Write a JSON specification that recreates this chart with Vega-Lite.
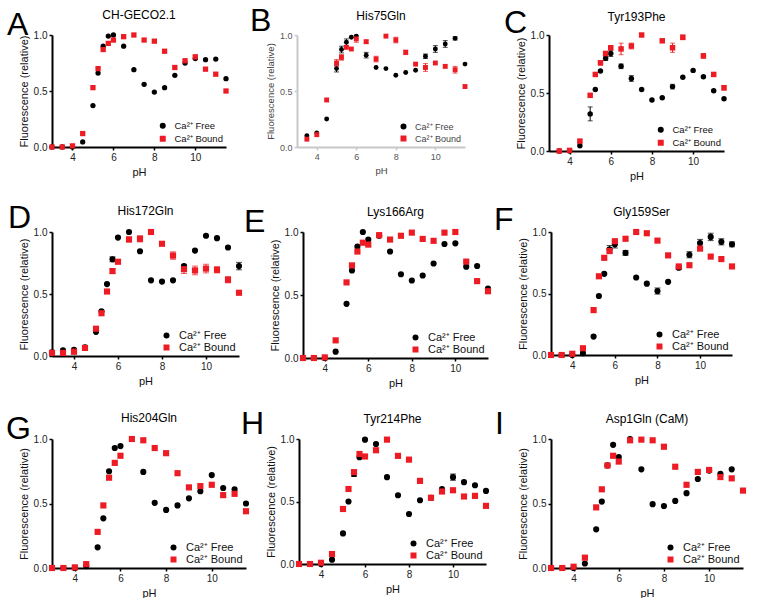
{
"$schema": "https://vega.github.io/schema/vega-lite/v6.json",
"padding": {"left": 5, "top": 5, "right": 0, "bottom": 0},
"background": "white",
"datasets": {
"A": [
{"pH":3,"s":"Free","v":0},{"pH":3.5,"s":"Free","v":0},{"pH":4,"s":"Free","v":0},{"pH":4.5,"s":"Free","v":0.045},{"pH":5,"s":"Free","v":0.37},{"pH":5.25,"s":"Free","v":0.66},{"pH":5.5,"s":"Free","v":0.9},{"pH":5.75,"s":"Free","v":0.99},{"pH":6,"s":"Free","v":1.0},{"pH":6.5,"s":"Free","v":0.9},{"pH":7,"s":"Free","v":0.69},{"pH":7.5,"s":"Free","v":0.56},{"pH":8,"s":"Free","v":0.49},{"pH":8.5,"s":"Free","v":0.53},{"pH":9,"s":"Free","v":0.64},{"pH":9.5,"s":"Free","v":0.75},{"pH":10,"s":"Free","v":0.79},{"pH":10.5,"s":"Free","v":0.78},{"pH":11,"s":"Free","v":0.785},{"pH":11.5,"s":"Free","v":0.61},
{"pH":3,"s":"Bound","v":0},{"pH":3.5,"s":"Bound","v":0},{"pH":4,"s":"Bound","v":0.01},{"pH":4.5,"s":"Bound","v":0.12},{"pH":5,"s":"Bound","v":0.53},{"pH":5.25,"s":"Bound","v":0.7},{"pH":5.5,"s":"Bound","v":0.87},{"pH":5.75,"s":"Bound","v":0.925},{"pH":6,"s":"Bound","v":0.955},{"pH":6.5,"s":"Bound","v":0.985},{"pH":7,"s":"Bound","v":1.0},{"pH":7.5,"s":"Bound","v":0.955},{"pH":8,"s":"Bound","v":0.945},{"pH":8.5,"s":"Bound","v":0.855},{"pH":9,"s":"Bound","v":0.71},{"pH":9.5,"s":"Bound","v":0.77},{"pH":10,"s":"Bound","v":0.805,"e":0.015},{"pH":10.5,"s":"Bound","v":0.695},{"pH":11,"s":"Bound","v":0.65},{"pH":11.5,"s":"Bound","v":0.5}
],
"B": [
{"pH":3.5,"s":"Free","v":0.1},{"pH":4,"s":"Free","v":0.125},{"pH":4.5,"s":"Free","v":0.25},{"pH":5,"s":"Free","v":0.7,"e":0.03},{"pH":5.25,"s":"Free","v":0.87,"e":0.03},{"pH":5.5,"s":"Free","v":0.935,"e":0.03},{"pH":5.75,"s":"Free","v":0.98},{"pH":6,"s":"Free","v":0.99},{"pH":6.5,"s":"Free","v":0.82,"e":0.025},{"pH":7,"s":"Free","v":0.71},{"pH":7.5,"s":"Free","v":0.7},{"pH":8,"s":"Free","v":0.64},{"pH":8.5,"s":"Free","v":0.665},{"pH":9,"s":"Free","v":0.685},{"pH":9.5,"s":"Free","v":0.81,"e":0.02},{"pH":10,"s":"Free","v":0.875,"e":0.03},{"pH":10.5,"s":"Free","v":0.92,"e":0.03},{"pH":11,"s":"Free","v":0.97,"e":0.015},{"pH":11.5,"s":"Free","v":0.74},
{"pH":3.5,"s":"Bound","v":0.07},{"pH":4,"s":"Bound","v":0.11},{"pH":4.5,"s":"Bound","v":0.42},{"pH":5,"s":"Bound","v":0.75,"e":0.03},{"pH":5.25,"s":"Bound","v":0.8,"e":0.025},{"pH":5.5,"s":"Bound","v":0.89},{"pH":5.75,"s":"Bound","v":0.875},{"pH":6,"s":"Bound","v":0.965,"e":0.03},{"pH":6.5,"s":"Bound","v":0.94,"e":0.015},{"pH":7,"s":"Bound","v":0.785,"e":0.025},{"pH":7.5,"s":"Bound","v":0.99},{"pH":8,"s":"Bound","v":0.955,"e":0.025},{"pH":8.5,"s":"Bound","v":0.845,"e":0.02},{"pH":9,"s":"Bound","v":0.74},{"pH":9.5,"s":"Bound","v":0.71,"e":0.035},{"pH":10,"s":"Bound","v":0.75},{"pH":10.5,"s":"Bound","v":0.72},{"pH":11,"s":"Bound","v":0.69,"e":0.03},{"pH":11.5,"s":"Bound","v":0.54}
],
"C": [
{"pH":3.5,"s":"Free","v":0},{"pH":4,"s":"Free","v":0},{"pH":4.5,"s":"Free","v":0.045},{"pH":5,"s":"Free","v":0.32,"e":0.06},{"pH":5.25,"s":"Free","v":0.53},{"pH":5.5,"s":"Free","v":0.69},{"pH":5.75,"s":"Free","v":0.8,"e":0.02},{"pH":6,"s":"Free","v":0.84,"e":0.025},{"pH":6.5,"s":"Free","v":0.73,"e":0.02},{"pH":7,"s":"Free","v":0.625,"e":0.025},{"pH":7.5,"s":"Free","v":0.53},{"pH":8,"s":"Free","v":0.44},{"pH":8.5,"s":"Free","v":0.46},{"pH":9,"s":"Free","v":0.555,"e":0.02},{"pH":9.5,"s":"Free","v":0.635},{"pH":10,"s":"Free","v":0.695},{"pH":10.5,"s":"Free","v":0.64},{"pH":11,"s":"Free","v":0.52},{"pH":11.5,"s":"Free","v":0.45},
{"pH":3.5,"s":"Bound","v":0},{"pH":4,"s":"Bound","v":0.005},{"pH":4.5,"s":"Bound","v":0.085,"e":0.015},{"pH":5,"s":"Bound","v":0.48},{"pH":5.25,"s":"Bound","v":0.66},{"pH":5.5,"s":"Bound","v":0.76,"e":0.02},{"pH":5.75,"s":"Bound","v":0.84,"e":0.02},{"pH":6,"s":"Bound","v":0.89,"e":0.015},{"pH":6.5,"s":"Bound","v":0.88,"e":0.05},{"pH":7,"s":"Bound","v":0.905,"e":0.025},{"pH":7.5,"s":"Bound","v":1.0},{"pH":8.5,"s":"Bound","v":0.95},{"pH":9,"s":"Bound","v":0.89,"e":0.04},{"pH":9.5,"s":"Bound","v":0.98,"e":0.02},{"pH":10.5,"s":"Bound","v":0.82,"e":0.02},{"pH":11,"s":"Bound","v":0.66},{"pH":11.5,"s":"Bound","v":0.545,"e":0.02}
],
"D": [
{"pH":3,"s":"Free","v":0.03},{"pH":3.5,"s":"Free","v":0.045},{"pH":4,"s":"Free","v":0.05},{"pH":4.5,"s":"Free","v":0.07},{"pH":5,"s":"Free","v":0.195},{"pH":5.25,"s":"Free","v":0.36},{"pH":5.5,"s":"Free","v":0.58},{"pH":5.75,"s":"Free","v":0.78,"e":0.02},{"pH":6,"s":"Free","v":0.955},{"pH":6.5,"s":"Free","v":1.0},{"pH":7,"s":"Free","v":0.845},{"pH":7.5,"s":"Free","v":0.61},{"pH":8,"s":"Free","v":0.6},{"pH":8.5,"s":"Free","v":0.61},{"pH":9,"s":"Free","v":0.725},{"pH":9.5,"s":"Free","v":0.85},{"pH":10,"s":"Free","v":0.97},{"pH":10.5,"s":"Free","v":0.95},{"pH":11,"s":"Free","v":0.875},{"pH":11.5,"s":"Free","v":0.725,"e":0.03},
{"pH":3,"s":"Bound","v":0.025,"e":0.02},{"pH":3.5,"s":"Bound","v":0.025,"e":0.02},{"pH":4,"s":"Bound","v":0.035,"e":0.02},{"pH":4.5,"s":"Bound","v":0.065},{"pH":5,"s":"Bound","v":0.22},{"pH":5.25,"s":"Bound","v":0.345},{"pH":5.5,"s":"Bound","v":0.52},{"pH":5.75,"s":"Bound","v":0.685,"e":0.02},{"pH":6,"s":"Bound","v":0.76},{"pH":6.5,"s":"Bound","v":0.94,"e":0.02},{"pH":7,"s":"Bound","v":0.945,"e":0.025},{"pH":7.5,"s":"Bound","v":1.0},{"pH":8,"s":"Bound","v":0.905},{"pH":8.5,"s":"Bound","v":0.81,"e":0.03},{"pH":9,"s":"Bound","v":0.7,"e":0.035},{"pH":9.5,"s":"Bound","v":0.69,"e":0.035},{"pH":10,"s":"Bound","v":0.705,"e":0.035},{"pH":10.5,"s":"Bound","v":0.695,"e":0.025},{"pH":11,"s":"Bound","v":0.615,"e":0.025},{"pH":11.5,"s":"Bound","v":0.51}
],
"E": [
{"pH":3,"s":"Free","v":0},{"pH":3.5,"s":"Free","v":0},{"pH":4,"s":"Free","v":0},{"pH":4.5,"s":"Free","v":0.05},{"pH":5,"s":"Free","v":0.43},{"pH":5.25,"s":"Free","v":0.695},{"pH":5.5,"s":"Free","v":0.885},{"pH":5.75,"s":"Free","v":1.0},{"pH":6,"s":"Free","v":0.94},{"pH":6.5,"s":"Free","v":0.97},{"pH":7,"s":"Free","v":0.845},{"pH":7.5,"s":"Free","v":0.665},{"pH":8,"s":"Free","v":0.615},{"pH":8.5,"s":"Free","v":0.655},{"pH":9,"s":"Free","v":0.75},{"pH":9.5,"s":"Free","v":0.905},{"pH":10,"s":"Free","v":0.91},{"pH":10.5,"s":"Free","v":0.725},{"pH":11,"s":"Free","v":0.73},{"pH":11.5,"s":"Free","v":0.55},
{"pH":3,"s":"Bound","v":0},{"pH":3.5,"s":"Bound","v":0},{"pH":4,"s":"Bound","v":0.005},{"pH":4.5,"s":"Bound","v":0.14},{"pH":5,"s":"Bound","v":0.6},{"pH":5.25,"s":"Bound","v":0.735},{"pH":5.5,"s":"Bound","v":0.845},{"pH":5.75,"s":"Bound","v":0.915},{"pH":6,"s":"Bound","v":0.9},{"pH":6.5,"s":"Bound","v":0.975},{"pH":7,"s":"Bound","v":0.94},{"pH":7.5,"s":"Bound","v":0.97},{"pH":8,"s":"Bound","v":0.995},{"pH":8.5,"s":"Bound","v":0.945},{"pH":9,"s":"Bound","v":0.93},{"pH":9.5,"s":"Bound","v":0.995},{"pH":10,"s":"Bound","v":1.0},{"pH":10.5,"s":"Bound","v":0.765},{"pH":11,"s":"Bound","v":0.61},{"pH":11.5,"s":"Bound","v":0.53}
],
"F": [
{"pH":3,"s":"Free","v":0},{"pH":3.5,"s":"Free","v":0},{"pH":4,"s":"Free","v":0},{"pH":4.5,"s":"Free","v":0.015},{"pH":5,"s":"Free","v":0.15},{"pH":5.25,"s":"Free","v":0.48},{"pH":5.5,"s":"Free","v":0.66},{"pH":5.75,"s":"Free","v":0.86,"e":0.03},{"pH":6,"s":"Free","v":0.9,"e":0.03},{"pH":6.5,"s":"Free","v":0.83,"e":0.02},{"pH":7,"s":"Free","v":0.63},{"pH":7.5,"s":"Free","v":0.58},{"pH":8,"s":"Free","v":0.52,"e":0.025},{"pH":8.5,"s":"Free","v":0.595},{"pH":9,"s":"Free","v":0.71,"e":0.015},{"pH":9.5,"s":"Free","v":0.815,"e":0.025},{"pH":10,"s":"Free","v":0.91,"e":0.03},{"pH":10.5,"s":"Free","v":0.96,"e":0.03},{"pH":11,"s":"Free","v":0.92,"e":0.025},{"pH":11.5,"s":"Free","v":0.9,"e":0.02},
{"pH":3,"s":"Bound","v":0},{"pH":3.5,"s":"Bound","v":0},{"pH":4,"s":"Bound","v":0.01},{"pH":4.5,"s":"Bound","v":0.055},{"pH":5,"s":"Bound","v":0.365},{"pH":5.25,"s":"Bound","v":0.64},{"pH":5.5,"s":"Bound","v":0.79},{"pH":5.75,"s":"Bound","v":0.845},{"pH":6,"s":"Bound","v":0.925},{"pH":6.5,"s":"Bound","v":0.945},{"pH":7,"s":"Bound","v":1.0},{"pH":7.5,"s":"Bound","v":0.99},{"pH":8,"s":"Bound","v":0.93},{"pH":8.5,"s":"Bound","v":0.81},{"pH":9,"s":"Bound","v":0.72},{"pH":9.5,"s":"Bound","v":0.73},{"pH":10,"s":"Bound","v":0.865},{"pH":10.5,"s":"Bound","v":0.8},{"pH":11,"s":"Bound","v":0.78},{"pH":11.5,"s":"Bound","v":0.72}
],
"G": [
{"pH":3,"s":"Free","v":0},{"pH":3.5,"s":"Free","v":0},{"pH":4,"s":"Free","v":0},{"pH":4.5,"s":"Free","v":0.015},{"pH":5,"s":"Free","v":0.16},{"pH":5.25,"s":"Free","v":0.385},{"pH":5.5,"s":"Free","v":0.75},{"pH":5.75,"s":"Free","v":0.93},{"pH":6,"s":"Free","v":0.945},{"pH":7,"s":"Free","v":0.745},{"pH":7.5,"s":"Free","v":0.505},{"pH":8,"s":"Free","v":0.45},{"pH":8.5,"s":"Free","v":0.485},{"pH":9,"s":"Free","v":0.54},{"pH":9.5,"s":"Free","v":0.595},{"pH":10,"s":"Free","v":0.72},{"pH":10.5,"s":"Free","v":0.62},{"pH":11,"s":"Free","v":0.61},{"pH":11.5,"s":"Free","v":0.5},
{"pH":3,"s":"Bound","v":0},{"pH":3.5,"s":"Bound","v":0},{"pH":4,"s":"Bound","v":0.005},{"pH":4.5,"s":"Bound","v":0.03},{"pH":5,"s":"Bound","v":0.28},{"pH":5.25,"s":"Bound","v":0.485},{"pH":5.5,"s":"Bound","v":0.7},{"pH":5.75,"s":"Bound","v":0.815},{"pH":6,"s":"Bound","v":0.87},{"pH":6.5,"s":"Bound","v":1.0},{"pH":7,"s":"Bound","v":0.99},{"pH":7.5,"s":"Bound","v":0.93},{"pH":8,"s":"Bound","v":0.89},{"pH":8.5,"s":"Bound","v":0.735},{"pH":9,"s":"Bound","v":0.625},{"pH":9.5,"s":"Bound","v":0.635},{"pH":10,"s":"Bound","v":0.645},{"pH":10.5,"s":"Bound","v":0.565},{"pH":11,"s":"Bound","v":0.575},{"pH":11.5,"s":"Bound","v":0.44}
],
"H": [
{"pH":3,"s":"Free","v":0},{"pH":3.5,"s":"Free","v":0},{"pH":4,"s":"Free","v":0},{"pH":4.5,"s":"Free","v":0.035},{"pH":5,"s":"Free","v":0.245},{"pH":5.25,"s":"Free","v":0.5},{"pH":5.5,"s":"Free","v":0.72,"e":0.02},{"pH":5.75,"s":"Free","v":0.855},{"pH":6,"s":"Free","v":0.995},{"pH":6.5,"s":"Free","v":0.96},{"pH":7,"s":"Free","v":0.695},{"pH":7.5,"s":"Free","v":0.55},{"pH":8,"s":"Free","v":0.4},{"pH":8.5,"s":"Free","v":0.51},{"pH":9,"s":"Free","v":0.53},{"pH":9.5,"s":"Free","v":0.6},{"pH":10,"s":"Free","v":0.695,"e":0.025},{"pH":10.5,"s":"Free","v":0.655},{"pH":11,"s":"Free","v":0.63},{"pH":11.5,"s":"Free","v":0.585},
{"pH":3,"s":"Bound","v":0},{"pH":3.5,"s":"Bound","v":0},{"pH":4,"s":"Bound","v":0.01},{"pH":4.5,"s":"Bound","v":0.08},{"pH":5,"s":"Bound","v":0.44},{"pH":5.25,"s":"Bound","v":0.6},{"pH":5.5,"s":"Bound","v":0.735},{"pH":5.75,"s":"Bound","v":0.88},{"pH":6,"s":"Bound","v":0.86},{"pH":6.5,"s":"Bound","v":0.91},{"pH":7,"s":"Bound","v":0.995},{"pH":7.5,"s":"Bound","v":0.865},{"pH":8,"s":"Bound","v":0.835},{"pH":8.5,"s":"Bound","v":0.665},{"pH":9,"s":"Bound","v":0.53},{"pH":9.5,"s":"Bound","v":0.58},{"pH":10,"s":"Bound","v":0.59},{"pH":10.5,"s":"Bound","v":0.54},{"pH":11,"s":"Bound","v":0.545},{"pH":11.5,"s":"Bound","v":0.465}
],
"I": [
{"pH":3,"s":"Free","v":0},{"pH":3.5,"s":"Free","v":0},{"pH":4,"s":"Free","v":0},{"pH":4.5,"s":"Free","v":0.035},{"pH":5,"s":"Free","v":0.3},{"pH":5.25,"s":"Free","v":0.515},{"pH":5.5,"s":"Free","v":0.795},{"pH":5.75,"s":"Free","v":0.955},{"pH":6,"s":"Free","v":0.86},{"pH":6.5,"s":"Free","v":1.0},{"pH":7,"s":"Free","v":0.765},{"pH":7.5,"s":"Free","v":0.495},{"pH":8,"s":"Free","v":0.48},{"pH":8.5,"s":"Free","v":0.52},{"pH":9,"s":"Free","v":0.58},{"pH":9.5,"s":"Free","v":0.69},{"pH":10,"s":"Free","v":0.755},{"pH":10.5,"s":"Free","v":0.73},{"pH":11,"s":"Free","v":0.765},
{"pH":3,"s":"Bound","v":0},{"pH":3.5,"s":"Bound","v":0},{"pH":4,"s":"Bound","v":0.01},{"pH":4.5,"s":"Bound","v":0.08},{"pH":5,"s":"Bound","v":0.47},{"pH":5.25,"s":"Bound","v":0.61},{"pH":5.5,"s":"Bound","v":0.795},{"pH":5.75,"s":"Bound","v":0.87},{"pH":6,"s":"Bound","v":0.825},{"pH":6.5,"s":"Bound","v":0.99},{"pH":7,"s":"Bound","v":0.995},{"pH":7.5,"s":"Bound","v":0.99},{"pH":8,"s":"Bound","v":0.94},{"pH":8.5,"s":"Bound","v":0.785},{"pH":9,"s":"Bound","v":0.645},{"pH":9.5,"s":"Bound","v":0.745},{"pH":10,"s":"Bound","v":0.76},{"pH":10.5,"s":"Bound","v":0.705},{"pH":11,"s":"Bound","v":0.695},{"pH":11.5,"s":"Bound","v":0.6}
]
},
"spacing": 21,
"resolve": {"scale": {"color": "independent", "shape": "independent"}, "legend": {"color": "independent", "shape": "independent"}},
"vconcat": [
{"hconcat": [
 {"hconcat": [
  {"width": 174, "height": 112, "layer": [
   {"data": {"name": "A"}, "transform": [{"filter": "isValid(datum.e) && datum.s == 'Bound'"}], "mark": {"type": "errorbar", "ticks": {"size": 5}, "thickness": 1, "color": "#ed1c24"},
    "encoding": {"x": {"field": "pH", "type": "quantitative", "scale": {"domain": [3, 11.5], "nice": false, "zero": false}, "axis": {"values": [4,6,8,10], "title": "pH"}},
     "y": {"field": "v", "type": "quantitative", "scale": {"domain": [0, 1], "nice": false}, "axis": {"values": [0,0.5,1], "format": ".1f", "title": "Fluorescence (relative)"}},
     "yError": {"field": "e"}}},
   {"data": {"name": "A"}, "mark": {"type": "point", "filled": true, "size": 28, "opacity": 1},
    "encoding": {"x": {"field": "pH", "type": "quantitative", "scale": {"domain": [3, 11.5], "nice": false, "zero": false}, "axis": {"values": [4,6,8,10], "title": "pH"}},
     "y": {"field": "v", "type": "quantitative", "scale": {"domain": [0, 1], "nice": false}, "axis": {"values": [0,0.5,1], "format": ".1f", "title": "Fluorescence (relative)"}},
     "color": {"field": "s", "type": "nominal", "scale": {"domain": ["Free","Bound"], "range": ["#000000","#ed1c24"]}, "legend": {"title": null, "labelFontSize": 9.5, "labelExpr": "'Ca²⁺ ' + datum.label"}},
     "shape": {"field": "s", "type": "nominal", "scale": {"domain": ["Free","Bound"], "range": ["circle","square"]}, "legend": {"title": null, "labelFontSize": 9.5, "labelExpr": "'Ca²⁺ ' + datum.label"}}}},
   {"data": {"values": [{"t": "A"}]}, "mark": {"type": "text", "align": "left", "baseline": "alphabetic", "fontSize": 32},
    "encoding": {"x": {"datum": 0.8, "type": "quantitative"}, "y": {"datum": 1.0, "type": "quantitative"}, "text": {"field": "t"}}},
   {"data": {"values": [{"t": "CH-GECO2.1"}]}, "mark": {"type": "text", "align": "center", "baseline": "middle", "fontSize": 12},
    "encoding": {"x": {"datum": 7.25, "type": "quantitative"}, "y": {"datum": 1.18, "type": "quantitative"}, "text": {"field": "t"}}}
  ]},
  {"width": 168, "height": 112, "layer": [
   {"data": {"name": "B"}, "transform": [{"filter": "isValid(datum.e) && datum.s == 'Free'"}], "mark": {"type": "errorbar", "ticks": {"size": 5}, "thickness": 1, "color": "#000000"},
    "encoding": {"x": {"field": "pH", "type": "quantitative", "scale": {"domain": [3, 11.5], "nice": false, "zero": false}, "axis": {"values": [4,6,8,10], "title": "pH", "domainColor": "#c8c8c8", "tickColor": "#c8c8c8", "labelColor": "#555", "titleColor": "#444", "labelFontSize": 9, "titleFontSize": 9.5}},
     "y": {"field": "v", "type": "quantitative", "scale": {"domain": [0, 1], "nice": false}, "axis": {"values": [0,0.5,1], "format": ".1f", "title": "Fluorescence (relative)", "domainColor": "#c8c8c8", "tickColor": "#c8c8c8", "labelColor": "#555", "titleColor": "#444", "labelFontSize": 9, "titleFontSize": 9.5}},
     "yError": {"field": "e"}}},
   {"data": {"name": "B"}, "transform": [{"filter": "isValid(datum.e) && datum.s == 'Bound'"}], "mark": {"type": "errorbar", "ticks": {"size": 5}, "thickness": 1, "color": "#ed1c24"},
    "encoding": {"x": {"field": "pH", "type": "quantitative", "scale": {"domain": [3, 11.5], "nice": false, "zero": false}, "axis": {"values": [4,6,8,10], "title": "pH", "domainColor": "#c8c8c8", "tickColor": "#c8c8c8", "labelColor": "#555", "titleColor": "#444", "labelFontSize": 9, "titleFontSize": 9.5}},
     "y": {"field": "v", "type": "quantitative", "scale": {"domain": [0, 1], "nice": false}, "axis": {"values": [0,0.5,1], "format": ".1f", "title": "Fluorescence (relative)", "domainColor": "#c8c8c8", "tickColor": "#c8c8c8", "labelColor": "#555", "titleColor": "#444", "labelFontSize": 9, "titleFontSize": 9.5}},
     "yError": {"field": "e"}}},
   {"data": {"name": "B"}, "mark": {"type": "point", "filled": true, "size": 24, "opacity": 1},
    "encoding": {"x": {"field": "pH", "type": "quantitative", "scale": {"domain": [3, 11.5], "nice": false, "zero": false}, "axis": {"values": [4,6,8,10], "title": "pH", "domainColor": "#c8c8c8", "tickColor": "#c8c8c8", "labelColor": "#555", "titleColor": "#444", "labelFontSize": 9, "titleFontSize": 9.5}},
     "y": {"field": "v", "type": "quantitative", "scale": {"domain": [0, 1], "nice": false}, "axis": {"values": [0,0.5,1], "format": ".1f", "title": "Fluorescence (relative)", "domainColor": "#c8c8c8", "tickColor": "#c8c8c8", "labelColor": "#555", "titleColor": "#444", "labelFontSize": 9, "titleFontSize": 9.5}},
     "color": {"field": "s", "type": "nominal", "scale": {"domain": ["Free","Bound"], "range": ["#000000","#ed1c24"]}, "legend": {"title": null, "labelFontSize": 9, "labelColor": "#444", "labelExpr": "'Ca²⁺ ' + datum.label"}},
     "shape": {"field": "s", "type": "nominal", "scale": {"domain": ["Free","Bound"], "range": ["circle","square"]}, "legend": {"title": null, "labelFontSize": 9, "labelColor": "#444", "labelExpr": "'Ca²⁺ ' + datum.label"}}}},
   {"data": {"values": [{"t": "B"}]}, "mark": {"type": "text", "align": "left", "baseline": "alphabetic", "fontSize": 32},
    "encoding": {"x": {"datum": 0.62, "type": "quantitative"}, "y": {"datum": 1.035, "type": "quantitative"}, "text": {"field": "t"}}},
   {"data": {"values": [{"t": "His75Gln"}]}, "mark": {"type": "text", "align": "center", "baseline": "middle", "fontSize": 12},
    "encoding": {"x": {"datum": 7.25, "type": "quantitative"}, "y": {"datum": 1.17, "type": "quantitative"}, "text": {"field": "t"}}}
  ]}
 ], "spacing": 20, "resolve": {"scale": {"color": "independent", "shape": "independent"}, "legend": {"color": "independent", "shape": "independent"}}},
 {"width": 175, "height": 116, "layer": [
   {"data": {"name": "C"}, "transform": [{"filter": "isValid(datum.e) && datum.s == 'Free'"}], "mark": {"type": "errorbar", "ticks": {"size": 5}, "thickness": 1, "color": "#000000"},
    "encoding": {"x": {"field": "pH", "type": "quantitative", "scale": {"domain": [3, 11.5], "nice": false, "zero": false}, "axis": {"values": [4,6,8,10], "title": "pH"}},
     "y": {"field": "v", "type": "quantitative", "scale": {"domain": [0, 1], "nice": false}, "axis": {"values": [0,0.5,1], "format": ".1f", "title": "Fluorescence (relative)"}},
     "yError": {"field": "e"}}},
   {"data": {"name": "C"}, "transform": [{"filter": "isValid(datum.e) && datum.s == 'Bound'"}], "mark": {"type": "errorbar", "ticks": {"size": 5}, "thickness": 1, "color": "#ed1c24"},
    "encoding": {"x": {"field": "pH", "type": "quantitative", "scale": {"domain": [3, 11.5], "nice": false, "zero": false}, "axis": {"values": [4,6,8,10], "title": "pH"}},
     "y": {"field": "v", "type": "quantitative", "scale": {"domain": [0, 1], "nice": false}, "axis": {"values": [0,0.5,1], "format": ".1f", "title": "Fluorescence (relative)"}},
     "yError": {"field": "e"}}},
   {"data": {"name": "C"}, "mark": {"type": "point", "filled": true, "size": 30, "opacity": 1},
    "encoding": {"x": {"field": "pH", "type": "quantitative", "scale": {"domain": [3, 11.5], "nice": false, "zero": false}, "axis": {"values": [4,6,8,10], "title": "pH"}},
     "y": {"field": "v", "type": "quantitative", "scale": {"domain": [0, 1], "nice": false}, "axis": {"values": [0,0.5,1], "format": ".1f", "title": "Fluorescence (relative)"}},
     "color": {"field": "s", "type": "nominal", "scale": {"domain": ["Free","Bound"], "range": ["#000000","#ed1c24"]}, "legend": {"title": null, "labelFontSize": 9.5, "labelExpr": "'Ca²⁺ ' + datum.label"}},
     "shape": {"field": "s", "type": "nominal", "scale": {"domain": ["Free","Bound"], "range": ["circle","square"]}, "legend": {"title": null, "labelFontSize": 9.5, "labelExpr": "'Ca²⁺ ' + datum.label"}}}},
   {"data": {"values": [{"t": "C"}]}, "mark": {"type": "text", "align": "left", "baseline": "alphabetic", "fontSize": 32},
    "encoding": {"x": {"datum": 0.81, "type": "quantitative"}, "y": {"datum": 1.017, "type": "quantitative"}, "text": {"field": "t"}}},
   {"data": {"values": [{"t": "Tyr193Phe"}]}, "mark": {"type": "text", "align": "center", "baseline": "middle", "fontSize": 12},
    "encoding": {"x": {"datum": 7.25, "type": "quantitative"}, "y": {"datum": 1.155, "type": "quantitative"}, "text": {"field": "t"}}}
 ]}
], "spacing": 35, "resolve": {"scale": {"color": "independent", "shape": "independent"}, "legend": {"color": "independent", "shape": "independent"}}},
{"vconcat": [
{"hconcat": [
 {"width": 187, "height": 124, "layer": [
   {"data": {"name": "D"}, "transform": [{"filter": "isValid(datum.e) && datum.s == 'Free'"}], "mark": {"type": "errorbar", "ticks": {"size": 6}, "thickness": 1, "color": "#000000"},
    "encoding": {"x": {"field": "pH", "type": "quantitative", "scale": {"domain": [3, 11.5], "nice": false, "zero": false}, "axis": {"values": [4,6,8,10], "title": "pH"}},
     "y": {"field": "v", "type": "quantitative", "scale": {"domain": [0, 1], "nice": false}, "axis": {"values": [0,0.5,1], "format": ".1f", "title": "Fluorescence (relative)"}},
     "yError": {"field": "e"}}},
   {"data": {"name": "D"}, "transform": [{"filter": "isValid(datum.e) && datum.s == 'Bound'"}], "mark": {"type": "errorbar", "ticks": {"size": 6}, "thickness": 1, "color": "#ed1c24"},
    "encoding": {"x": {"field": "pH", "type": "quantitative", "scale": {"domain": [3, 11.5], "nice": false, "zero": false}, "axis": {"values": [4,6,8,10], "title": "pH"}},
     "y": {"field": "v", "type": "quantitative", "scale": {"domain": [0, 1], "nice": false}, "axis": {"values": [0,0.5,1], "format": ".1f", "title": "Fluorescence (relative)"}},
     "yError": {"field": "e"}}},
   {"data": {"name": "D"}, "mark": {"type": "point", "filled": true, "size": 38, "opacity": 1},
    "encoding": {"x": {"field": "pH", "type": "quantitative", "scale": {"domain": [3, 11.5], "nice": false, "zero": false}, "axis": {"values": [4,6,8,10], "title": "pH"}},
     "y": {"field": "v", "type": "quantitative", "scale": {"domain": [0, 1], "nice": false}, "axis": {"values": [0,0.5,1], "format": ".1f", "title": "Fluorescence (relative)"}},
     "color": {"field": "s", "type": "nominal", "scale": {"domain": ["Free","Bound"], "range": ["#000000","#ed1c24"]}, "legend": {"title": null, "labelFontSize": 11, "rowPadding": 0, "labelExpr": "'Ca²⁺ ' + datum.label"}},
     "shape": {"field": "s", "type": "nominal", "scale": {"domain": ["Free","Bound"], "range": ["circle","square"]}, "legend": {"title": null, "labelFontSize": 11, "rowPadding": 0, "labelExpr": "'Ca²⁺ ' + datum.label"}}}},
   {"data": {"values": [{"t": "D"}]}, "mark": {"type": "text", "align": "left", "baseline": "alphabetic", "fontSize": 32},
    "encoding": {"x": {"datum": 1.0, "type": "quantitative"}, "y": {"datum": 1.03, "type": "quantitative"}, "text": {"field": "t"}}},
   {"data": {"values": [{"t": "His172Gln"}]}, "mark": {"type": "text", "align": "center", "baseline": "middle", "fontSize": 12},
    "encoding": {"x": {"datum": 7.25, "type": "quantitative"}, "y": {"datum": 1.17, "type": "quantitative"}, "text": {"field": "t"}}}
 ]},
 {"width": 185, "height": 126, "layer": [
   {"data": {"name": "E"}, "mark": {"type": "point", "filled": true, "size": 38, "opacity": 1},
    "encoding": {"x": {"field": "pH", "type": "quantitative", "scale": {"domain": [3, 11.5], "nice": false, "zero": false}, "axis": {"values": [4,6,8,10], "title": "pH"}},
     "y": {"field": "v", "type": "quantitative", "scale": {"domain": [0, 1], "nice": false}, "axis": {"values": [0,0.5,1], "format": ".1f", "title": "Fluorescence (relative)"}},
     "color": {"field": "s", "type": "nominal", "scale": {"domain": ["Free","Bound"], "range": ["#000000","#ed1c24"]}, "legend": {"title": null, "labelFontSize": 11, "rowPadding": 0, "labelExpr": "'Ca²⁺ ' + datum.label"}},
     "shape": {"field": "s", "type": "nominal", "scale": {"domain": ["Free","Bound"], "range": ["circle","square"]}, "legend": {"title": null, "labelFontSize": 11, "rowPadding": 0, "labelExpr": "'Ca²⁺ ' + datum.label"}}}},
   {"data": {"values": [{"t": "E"}]}, "mark": {"type": "text", "align": "left", "baseline": "alphabetic", "fontSize": 32},
    "encoding": {"x": {"datum": 0.29, "type": "quantitative"}, "y": {"datum": 1.0, "type": "quantitative"}, "text": {"field": "t"}}},
   {"data": {"values": [{"t": "Lys166Arg"}]}, "mark": {"type": "text", "align": "center", "baseline": "middle", "fontSize": 12},
    "encoding": {"x": {"datum": 7.25, "type": "quantitative"}, "y": {"datum": 1.16, "type": "quantitative"}, "text": {"field": "t"}}}
 ]},
 {"width": 181, "height": 123, "layer": [
   {"data": {"name": "F"}, "transform": [{"filter": "isValid(datum.e) && datum.s == 'Free'"}], "mark": {"type": "errorbar", "ticks": {"size": 6}, "thickness": 1, "color": "#000000"},
    "encoding": {"x": {"field": "pH", "type": "quantitative", "scale": {"domain": [3, 11.5], "nice": false, "zero": false}, "axis": {"values": [4,6,8,10], "title": "pH"}},
     "y": {"field": "v", "type": "quantitative", "scale": {"domain": [0, 1], "nice": false}, "axis": {"values": [0,0.5,1], "format": ".1f", "title": "Fluorescence (relative)"}},
     "yError": {"field": "e"}}},
   {"data": {"name": "F"}, "mark": {"type": "point", "filled": true, "size": 38, "opacity": 1},
    "encoding": {"x": {"field": "pH", "type": "quantitative", "scale": {"domain": [3, 11.5], "nice": false, "zero": false}, "axis": {"values": [4,6,8,10], "title": "pH"}},
     "y": {"field": "v", "type": "quantitative", "scale": {"domain": [0, 1], "nice": false}, "axis": {"values": [0,0.5,1], "format": ".1f", "title": "Fluorescence (relative)"}},
     "color": {"field": "s", "type": "nominal", "scale": {"domain": ["Free","Bound"], "range": ["#000000","#ed1c24"]}, "legend": {"title": null, "labelFontSize": 11, "rowPadding": 0, "labelExpr": "'Ca²⁺ ' + datum.label"}},
     "shape": {"field": "s", "type": "nominal", "scale": {"domain": ["Free","Bound"], "range": ["circle","square"]}, "legend": {"title": null, "labelFontSize": 11, "rowPadding": 0, "labelExpr": "'Ca²⁺ ' + datum.label"}}}},
   {"data": {"values": [{"t": "F"}]}, "mark": {"type": "text", "align": "left", "baseline": "alphabetic", "fontSize": 32},
    "encoding": {"x": {"datum": 0.32, "type": "quantitative"}, "y": {"datum": 1.02, "type": "quantitative"}, "text": {"field": "t"}}},
   {"data": {"values": [{"t": "Gly159Ser"}]}, "mark": {"type": "text", "align": "center", "baseline": "middle", "fontSize": 12},
    "encoding": {"x": {"datum": 7.25, "type": "quantitative"}, "y": {"datum": 1.163, "type": "quantitative"}, "text": {"field": "t"}}}
 ]}
], "spacing": 1, "resolve": {"scale": {"color": "independent", "shape": "independent"}, "legend": {"color": "independent", "shape": "independent"}}},
{"hconcat": [
 {"hconcat": [
  {"width": 194, "height": 129, "layer": [
   {"data": {"name": "G"}, "mark": {"type": "point", "filled": true, "size": 38, "opacity": 1},
    "encoding": {"x": {"field": "pH", "type": "quantitative", "scale": {"domain": [3, 11.5], "nice": false, "zero": false}, "axis": {"values": [4,6,8,10], "title": "pH"}},
     "y": {"field": "v", "type": "quantitative", "scale": {"domain": [0, 1], "nice": false}, "axis": {"values": [0,0.5,1], "format": ".1f", "title": "Fluorescence (relative)"}},
     "color": {"field": "s", "type": "nominal", "scale": {"domain": ["Free","Bound"], "range": ["#000000","#ed1c24"]}, "legend": {"title": null, "labelFontSize": 11, "rowPadding": 0, "labelExpr": "'Ca²⁺ ' + datum.label"}},
     "shape": {"field": "s", "type": "nominal", "scale": {"domain": ["Free","Bound"], "range": ["circle","square"]}, "legend": {"title": null, "labelFontSize": 11, "rowPadding": 0, "labelExpr": "'Ca²⁺ ' + datum.label"}}}},
   {"data": {"values": [{"t": "G"}]}, "mark": {"type": "text", "align": "left", "baseline": "alphabetic", "fontSize": 32},
    "encoding": {"x": {"datum": 0.98, "type": "quantitative"}, "y": {"datum": 1.0, "type": "quantitative"}, "text": {"field": "t"}}},
   {"data": {"values": [{"t": "His204Gln"}]}, "mark": {"type": "text", "align": "center", "baseline": "middle", "fontSize": 12},
    "encoding": {"x": {"datum": 7.25, "type": "quantitative"}, "y": {"datum": 1.163, "type": "quantitative"}, "text": {"field": "t"}}}
  ]},
  {"width": 187, "height": 125, "layer": [
   {"data": {"name": "H"}, "transform": [{"filter": "isValid(datum.e) && datum.s == 'Free'"}], "mark": {"type": "errorbar", "ticks": {"size": 6}, "thickness": 1, "color": "#000000"},
    "encoding": {"x": {"field": "pH", "type": "quantitative", "scale": {"domain": [3, 11.5], "nice": false, "zero": false}, "axis": {"values": [4,6,8,10], "title": "pH"}},
     "y": {"field": "v", "type": "quantitative", "scale": {"domain": [0, 1], "nice": false}, "axis": {"values": [0,0.5,1], "format": ".1f", "title": "Fluorescence (relative)"}},
     "yError": {"field": "e"}}},
   {"data": {"name": "H"}, "mark": {"type": "point", "filled": true, "size": 38, "opacity": 1},
    "encoding": {"x": {"field": "pH", "type": "quantitative", "scale": {"domain": [3, 11.5], "nice": false, "zero": false}, "axis": {"values": [4,6,8,10], "title": "pH"}},
     "y": {"field": "v", "type": "quantitative", "scale": {"domain": [0, 1], "nice": false}, "axis": {"values": [0,0.5,1], "format": ".1f", "title": "Fluorescence (relative)"}},
     "color": {"field": "s", "type": "nominal", "scale": {"domain": ["Free","Bound"], "range": ["#000000","#ed1c24"]}, "legend": {"title": null, "labelFontSize": 11, "rowPadding": 0, "labelExpr": "'Ca²⁺ ' + datum.label"}},
     "shape": {"field": "s", "type": "nominal", "scale": {"domain": ["Free","Bound"], "range": ["circle","square"]}, "legend": {"title": null, "labelFontSize": 11, "rowPadding": 0, "labelExpr": "'Ca²⁺ ' + datum.label"}}}},
   {"data": {"values": [{"t": "H"}]}, "mark": {"type": "text", "align": "left", "baseline": "alphabetic", "fontSize": 32},
    "encoding": {"x": {"datum": 0.36, "type": "quantitative"}, "y": {"datum": 1.04, "type": "quantitative"}, "text": {"field": "t"}}},
   {"data": {"values": [{"t": "Tyr214Phe"}]}, "mark": {"type": "text", "align": "center", "baseline": "middle", "fontSize": 12},
    "encoding": {"x": {"datum": 7.25, "type": "quantitative"}, "y": {"datum": 1.16, "type": "quantitative"}, "text": {"field": "t"}}}
  ]}
 ], "spacing": -10, "resolve": {"scale": {"color": "independent", "shape": "independent"}, "legend": {"color": "independent", "shape": "independent"}}},
 {"width": 192, "height": 129, "layer": [
   {"data": {"name": "I"}, "mark": {"type": "point", "filled": true, "size": 38, "opacity": 1},
    "encoding": {"x": {"field": "pH", "type": "quantitative", "scale": {"domain": [3, 11.5], "nice": false, "zero": false}, "axis": {"values": [4,6,8,10], "title": "pH"}},
     "y": {"field": "v", "type": "quantitative", "scale": {"domain": [0, 1], "nice": false}, "axis": {"values": [0,0.5,1], "format": ".1f", "title": "Fluorescence (relative)"}},
     "color": {"field": "s", "type": "nominal", "scale": {"domain": ["Free","Bound"], "range": ["#000000","#ed1c24"]}, "legend": {"title": null, "labelFontSize": 11, "rowPadding": 0, "labelExpr": "'Ca²⁺ ' + datum.label"}},
     "shape": {"field": "s", "type": "nominal", "scale": {"domain": ["Free","Bound"], "range": ["circle","square"]}, "legend": {"title": null, "labelFontSize": 11, "rowPadding": 0, "labelExpr": "'Ca²⁺ ' + datum.label"}}}},
   {"data": {"values": [{"t": "I"}]}, "mark": {"type": "text", "align": "left", "baseline": "alphabetic", "fontSize": 32},
    "encoding": {"x": {"datum": 0.52, "type": "quantitative"}, "y": {"datum": 1.04, "type": "quantitative"}, "text": {"field": "t"}}},
   {"data": {"values": [{"t": "Asp1Gln (CaM)"}]}, "mark": {"type": "text", "align": "center", "baseline": "middle", "fontSize": 12},
    "encoding": {"x": {"datum": 7.25, "type": "quantitative"}, "y": {"datum": 1.155, "type": "quantitative"}, "text": {"field": "t"}}}
 ]}
], "spacing": 4, "resolve": {"scale": {"color": "independent", "shape": "independent"}, "legend": {"color": "independent", "shape": "independent"}}}
], "spacing": 19, "resolve": {"scale": {"color": "independent", "shape": "independent"}, "legend": {"color": "independent", "shape": "independent"}}}
],
"config": {
 "font": "Liberation Sans",
 "view": {"stroke": null},
 "axis": {"grid": false, "domainColor": "#000000", "domainWidth": 2, "tickColor": "#000000", "tickWidth": 1.5, "tickSize": 3, "labelFontSize": 10, "labelColor": "#222222", "titleFontSize": 11, "titleFontWeight": "normal", "titleColor": "#111111", "labelPadding": 2, "titlePadding": 4},
 "legend": {"orient": "bottom-right", "offset": 3, "padding": 0, "labelFontSize": 10.5, "labelColor": "#111111", "symbolSize": 36, "symbolStrokeWidth": 0, "rowPadding": 2, "labelOffset": 7},
 "text": {"color": "#000000"}
}
}
